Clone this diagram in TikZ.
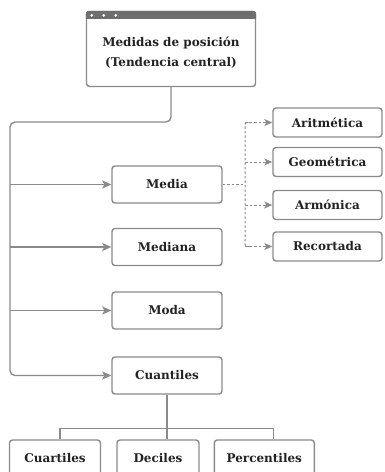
\documentclass[tikz,border=0pt]{standalone}
\usepackage{fontspec}
\setmainfont{DejaVu Serif}
\usetikzlibrary{arrows.meta}
\definecolor{linegray}{HTML}{8A8A8A}
\definecolor{bargray}{HTML}{6E6E6E}
\definecolor{txtcol}{HTML}{222222}
\tikzset{
  box/.style={draw=linegray, line width=1.4pt, rounded corners=3pt, fill=white,
    text=txtcol, font=\bfseries\fontsize{12}{20}\selectfont,
    minimum width=110pt, minimum height=37pt, inner sep=0pt},
  subbox/.style={box, minimum width=109pt, minimum height=29pt},
  plain/.style={draw=linegray, line width=1.4pt},
  link/.style={plain, -{Stealth[length=9pt,width=8pt,inset=2pt]}},
  dashline/.style={draw=linegray, line width=1pt, dash pattern=on 2.5pt off 2pt},
  dlink/.style={dashline, -{Stealth[length=8pt,width=7pt,inset=2pt]}}
}
\begin{document}
\begin{tikzpicture}[x=1pt,y=-1pt]
  \useasboundingbox (0,0) rectangle (384,472);
  \clip (0,0) rectangle (384,472);

  % ROOT
  \node[box, minimum width=169pt, minimum height=75pt] (top) at (171,49) {};
  \fill[bargray] ([yshift=-8pt]top.north west) [rounded corners=3pt] -- (top.north west)
    -- (top.north east) [sharp corners] -- ([yshift=-8pt]top.north east) -- cycle;
  \foreach \dx in {6,18,30}
    \fill[white] ([xshift=\dx pt, yshift=-4.5pt]top.north west) circle (1.5pt);
  \node[text=txtcol, font=\bfseries\fontsize{12}{20}\selectfont, align=center,
    inner sep=0pt] (toptext) at ([yshift=-4pt]top.center)
    {Medidas de posición\\(Tendencia central)};

  % MEASURES
  \node[box] (me) at (167,184.5) {Media};
  \node[box] (md) at (167,247)   {Mediana};
  \node[box] (mo) at (167,310.5) {Moda};
  \node[box] (cu) at (167,375.5) {Cuantiles};

  % KINDS OF MEAN
  \node[subbox] (ar)  at (327.5,122.5) {Aritmética};
  \node[subbox] (ge)  at (327.5,162)   {Geométrica};
  \node[subbox] (arm) at (327.5,205)   {Armónica};
  \node[subbox] (re)  at (327.5,246.5) {Recortada};

  % QUANTILES
  \node[box, minimum width=91pt]  (ca) at (55,458.5)    {Cuartiles};
  \node[box, minimum width=82pt]  (de) at (158,458.5)   {Deciles};
  \node[box, minimum width=100pt] (pe) at (264.3,458.5) {Percentiles};

  % ARROWS
  \coordinate (corner) at (10,122);
  \draw[link, rounded corners=5pt] (top.south) |- (corner) |- (cu.west);
  \foreach \n in {me,md,mo}
    \draw[link] (corner |- \n.west) -- (\n.west);

  \coordinate (split) at (245,184.5);
  \draw[dashline] (me.east) -- (split);
  \draw[dashline, rounded corners=2pt] ([xshift=6pt]ar.west -| split) -- (ar.west -| split)
    -- (re.west -| split) -- ([xshift=6pt]re.west -| split);
  \foreach \n in {ar,ge,arm,re}
    \draw[dlink] (\n.west -| split) -- (\n.west);

  \path (cu.south) ++(0,34) coordinate (bar);
  \draw[plain] (cu.south) -- (cu.south |- de.north);
  \draw[plain] ([xshift=5pt]ca.north) |- (bar) -| ([xshift=9pt]pe.north);
\end{tikzpicture}
\end{document}
